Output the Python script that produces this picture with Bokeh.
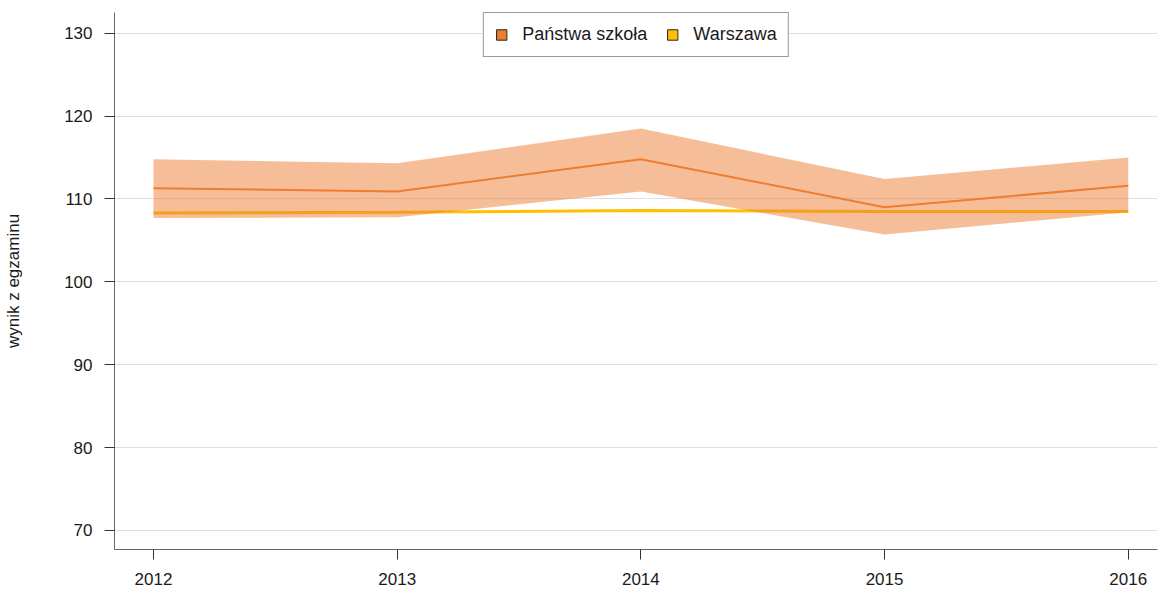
from bokeh.plotting import figure
from bokeh.models import Legend, LegendItem, Range1d, FixedTicker
from bokeh.embed import file_html
from bokeh.resources import INLINE

years = [2012, 2013, 2014, 2015, 2016]
school = [111.3, 110.9, 114.8, 109.0, 111.6]
school_low = [107.7, 107.8, 110.9, 105.7, 108.4]
school_high = [114.8, 114.3, 118.5, 112.4, 115.0]
warsaw = [108.3, 108.4, 108.6, 108.5, 108.5]
y_ticks = [70, 80, 90, 100, 110, 120, 130]
series_names = ["Państwa szkoła", "Warszawa"]

FONT = "Liberation Sans"
ORANGE = "#ED7D31"
YELLOW = "#FFC000"

p = figure(width=1158, height=591, output_backend="svg", toolbar_location=None,
           x_range=Range1d(2011.84, 2016.12), y_range=Range1d(67.7, 132.5),
           min_border_left=114, min_border_right=1, min_border_top=12, min_border_bottom=42)
p.outline_line_color = None
p.background_fill_color = "white"

p.xgrid.grid_line_color = None
p.ygrid.grid_line_color = "#DEDEDE"
p.ygrid.grid_line_width = 1

p.xaxis.ticker = FixedTicker(ticks=years)
p.yaxis.ticker = FixedTicker(ticks=y_ticks)
p.xaxis.minor_tick_line_color = None
p.yaxis.minor_tick_line_color = None
for ax in (p.xaxis, p.yaxis):
    ax.axis_line_color = "#666666"
    ax.major_tick_line_color = "#333333"
    ax.major_tick_in = 0
    ax.major_tick_out = 10
    ax.major_label_text_font = FONT
    ax.major_label_text_font_size = "17px"
    ax.major_label_text_color = "#1a1a1a"
p.xaxis.major_label_standoff = 13
p.yaxis.major_label_standoff = 12
p.yaxis.axis_label = "wynik z egzaminu"
p.yaxis.axis_label_text_font = FONT
p.yaxis.axis_label_text_font_style = "normal"
p.yaxis.axis_label_text_font_size = "17px"
p.yaxis.axis_label_text_color = "#1a1a1a"
p.yaxis.axis_label_standoff = 38

p.line(years, warsaw, line_color=YELLOW, line_width=3)
p.varea(x=years, y1=school_low, y2=school_high, fill_color=ORANGE, fill_alpha=0.5)
p.line(years, school, line_color=ORANGE, line_width=2)

# legend proxies (square swatches)
r1 = p.quad(left=[years[0]], right=[years[0]], bottom=[school[0]], top=[school[0]],
            fill_color=ORANGE, line_color="#222222", line_width=1, visible=False)
r2 = p.quad(left=[years[0]], right=[years[0]], bottom=[warsaw[0]], top=[warsaw[0]],
            fill_color=YELLOW, line_color="#222222", line_width=1, visible=False)

legend = Legend(items=[LegendItem(label=series_names[0], renderers=[r1]),
                       LegendItem(label=series_names[1], renderers=[r2])],
                location="top_center", orientation="horizontal",
                margin=0, padding=11, spacing=18, glyph_width=13, glyph_height=13,
                label_standoff=15, label_text_font=FONT, label_text_font_size="18px",
                label_text_color="#1a1a1a",
                border_line_color="#333333", border_line_width=1,
                background_fill_color="white", background_fill_alpha=1)
p.add_layout(legend, "center")

open("out.html", "w").write(file_html(p, INLINE))
